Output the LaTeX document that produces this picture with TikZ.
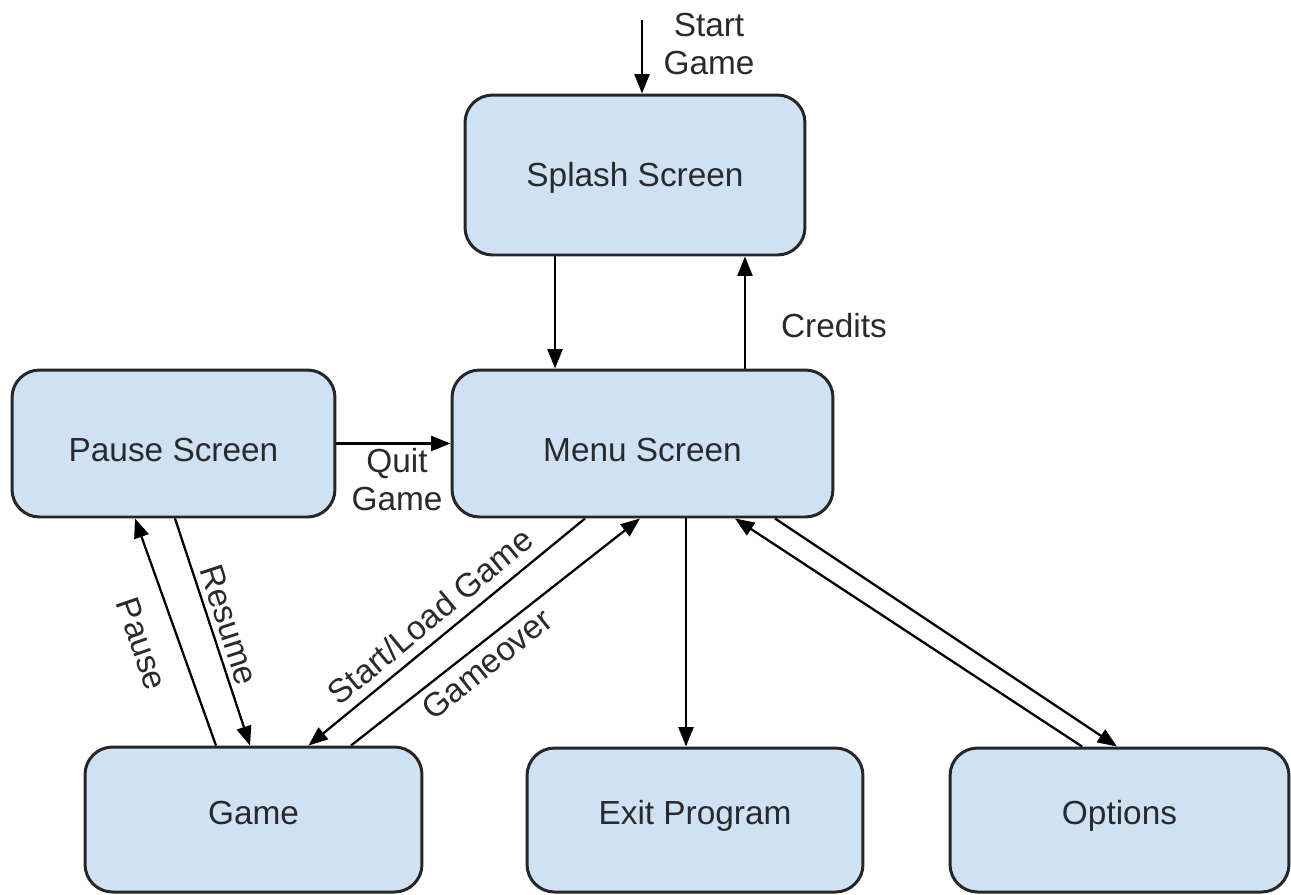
\documentclass[tikz,border=0pt]{standalone}
\usepackage{fontspec}
\setmainfont{Liberation Sans}
\usetikzlibrary{arrows.meta}
\definecolor{boxfill}{HTML}{CFE2F3}
\definecolor{boxline}{HTML}{262626}
\definecolor{txt}{HTML}{2A2A2A}
\begin{document}
\begin{tikzpicture}[x=0.02cm,y=-0.02cm,
  box/.style={draw=boxline, fill=boxfill, line width=1.7pt, rounded corners=0.55cm,
    text=txt, font=\fontsize{19}{21.6}\selectfont, inner sep=0pt, text height=14pt, text depth=0.4pt},
  midtext/.style={text height=20.4pt, text depth=0pt},
  lowtext/.style={text height=14pt, text depth=8.4pt},
  arr/.style={draw=black, line width=1.3pt, -{Triangle[length=11pt,width=8.5pt]}},
  lbl/.style={text=txt, font=\fontsize{19}{21.6}\selectfont, inner sep=0pt, align=center}]
\useasboundingbox (0,0) rectangle (1291,894);
% boxes
\node[box, minimum width=6.8cm, minimum height=3.2cm] (splash) at (635,175) {Splash Screen};
\node[box, midtext, minimum width=7.62cm, minimum height=2.94cm] (menu) at (642.5,443.5) {Menu Screen};
\node[box, midtext, minimum width=6.46cm, minimum height=2.94cm] (pause) at (173.5,443.5) {Pause Screen};
\node[box, lowtext, minimum width=6.74cm, minimum height=2.9cm] (game) at (253.5,819.5) {Game};
\node[box, lowtext, minimum width=6.72cm, minimum height=2.88cm] (exit) at (695,820) {Exit Program};
\node[box, lowtext, minimum width=6.78cm, minimum height=2.88cm] (options) at (1119.5,820) {Options};
% connectors
\coordinate (startpt) at (642,20);
\draw[arr] (startpt) -- (startpt |- splash.north);
\coordinate (s1) at ([xshift=-1.6cm]splash.south);
\draw[arr] (s1) -- (s1 |- menu.north);
\coordinate (c1) at ([xshift=2.2cm]splash.south);
\draw[arr] (c1 |- menu.north) -- (c1);
\draw[arr] (pause.east) -- (pause.east -| menu.west);
\draw[arr] ([xshift=-0.75cm]game.north) -- ([xshift=-0.77cm]pause.south);
\draw[arr] ([xshift=0.03cm]pause.south) -- ([xshift=-0.07cm]game.north);
\draw[arr] ([xshift=-1.15cm]menu.south) -- ([xshift=1.1cm]game.north);
\draw[arr] ([xshift=1.95cm]game.north) -- ([xshift=-0.05cm]menu.south);
\coordinate (e1) at ([xshift=0.87cm]menu.south);
\draw[arr] (e1) -- (e1 |- exit.north);
\draw[arr] ([xshift=-0.75cm]options.north) -- ([xshift=1.85cm]menu.south);
\draw[arr] ([xshift=2.65cm]menu.south) -- ([xshift=-0.05cm]options.north);
% labels
\node[lbl] (lstart) at (709,44) {Start\\Game};
\node[lbl] (lcredits) at (834,326) {Credits};
\node[lbl] (lquit) at (397,480) {Quit\\Game};
\node[lbl, rotate=-71] (lpause) at (142,644) {Pause};
\node[lbl, rotate=-72] (lresume) at (229,625) {Resume};
\node[lbl, rotate=39.7] (lstartload) at (430,616) {Start/Load Game};
\node[lbl, rotate=38.8] (lgameover) at (487,664) {Gameover};
\end{tikzpicture}
\end{document}
